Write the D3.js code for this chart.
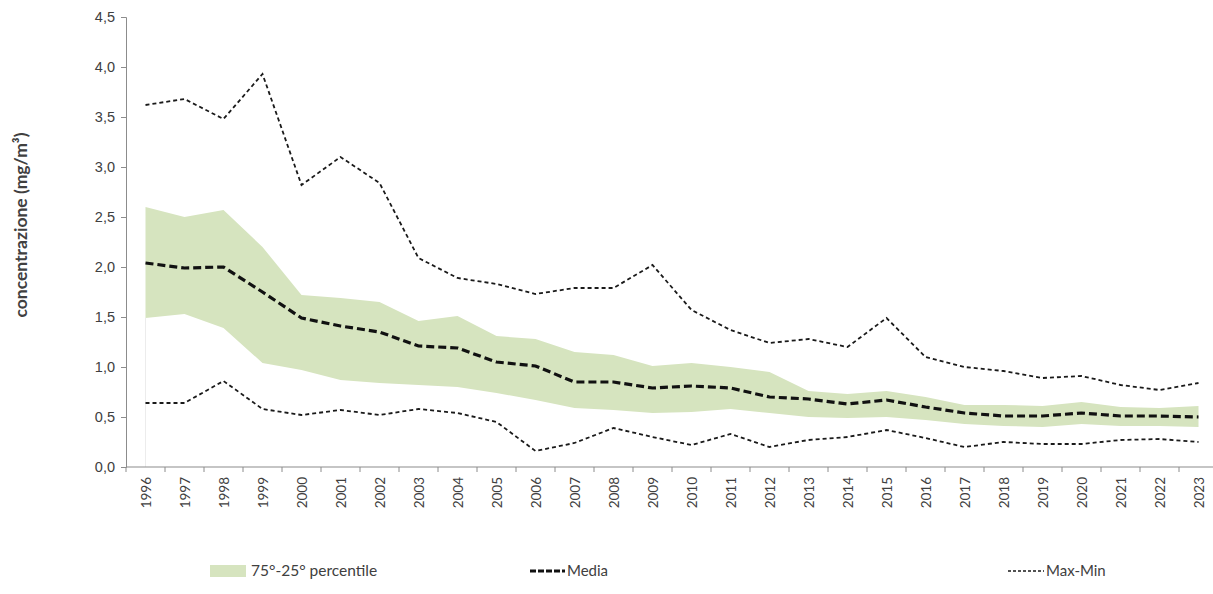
<!DOCTYPE html>
<html>
<head>
<meta charset="utf-8">
<script src="https://cdn.jsdelivr.net/npm/d3@7"></script>
<style>
  body { margin: 0; background: #fff; }
  svg { display: block; font-family: Lato, "Open Sans", sans-serif; }
</style>
</head>
<body>
<svg id="chart" width="1213" height="594"></svg>
<script>
// data
const years = ["1996","1997","1998","1999","2000","2001","2002","2003","2004","2005",
  "2006","2007","2008","2009","2010","2011","2012","2013","2014","2015",
  "2016","2017","2018","2019","2020","2021","2022","2023"];

const maxVals = [3.62, 3.68, 3.48, 3.93, 2.82, 3.10, 2.84, 2.09, 1.89, 1.83,
  1.73, 1.79, 1.79, 2.02, 1.57, 1.37, 1.24, 1.28, 1.20, 1.49,
  1.10, 1.00, 0.96, 0.89, 0.91, 0.82, 0.77, 0.84];

const p75 = [2.60, 2.50, 2.57, 2.20, 1.72, 1.69, 1.65, 1.46, 1.51, 1.31,
  1.28, 1.15, 1.12, 1.01, 1.04, 1.00, 0.95, 0.76, 0.73, 0.76,
  0.70, 0.62, 0.62, 0.61, 0.65, 0.60, 0.59, 0.61];

const media = [2.04, 1.99, 2.00, 1.75, 1.49, 1.41, 1.35, 1.21, 1.19, 1.05,
  1.01, 0.85, 0.85, 0.79, 0.81, 0.79, 0.70, 0.68, 0.63, 0.67,
  0.60, 0.54, 0.51, 0.51, 0.54, 0.51, 0.51, 0.50];

const p25 = [1.49, 1.53, 1.39, 1.04, 0.97, 0.87, 0.84, 0.82, 0.80, 0.74,
  0.67, 0.59, 0.57, 0.54, 0.55, 0.58, 0.54, 0.50, 0.49, 0.50,
  0.47, 0.43, 0.41, 0.40, 0.43, 0.41, 0.41, 0.40];

const minVals = [0.64, 0.64, 0.86, 0.58, 0.52, 0.57, 0.52, 0.58, 0.54, 0.45,
  0.16, 0.24, 0.39, 0.30, 0.22, 0.33, 0.20, 0.27, 0.30, 0.37,
  0.29, 0.20, 0.25, 0.23, 0.23, 0.27, 0.28, 0.25];

const yTicks = [0, 0.5, 1, 1.5, 2, 2.5, 3, 3.5, 4, 4.5];

const svg = d3.select("#chart");
const textColor = "#404040";
const axisColor = "#8c8c8c";

let x = d3.scaleBand()
  .domain(years)
  .range([126, 1218])
  .padding(0);

let y = d3.scaleLinear()
  .domain([0, 4.5])
  .range([467, 17]);

const cx = d => x(d) + x.bandwidth() / 2;

// percentile band
let area = d3.area()
  .x((d, i) => cx(years[i]))
  .y0((d, i) => y(p25[i]))
  .y1((d, i) => y(p75[i]));

svg.append("path")
  .datum(years)
  .attr("d", area)
  .attr("fill", "#d6e4bf");

// faint edge of the stacked area in the first year
svg.append("line")
  .attr("x1", cx(years[0])).attr("x2", cx(years[0]))
  .attr("y1", y(p25[0])).attr("y2", y(0))
  .attr("stroke", "#ececec")
  .attr("stroke-width", 1);

let line = vals => d3.line()
  .x((d, i) => cx(years[i]))
  .y(d => y(d))(vals);

// max and min
[maxVals, minVals].forEach(vals => {
  svg.append("path")
    .attr("d", line(vals))
    .attr("fill", "none")
    .attr("stroke", "#1a1a1a")
    .attr("stroke-width", 1.8)
    .attr("stroke-dasharray", "4,3");
});

// mean
svg.append("path")
  .attr("d", line(media))
  .attr("fill", "none")
  .attr("stroke", "#111")
  .attr("stroke-width", 3.2)
  .attr("stroke-dasharray", "8,4");

// y axis
let yAxis = d3.axisLeft(y)
  .tickValues(yTicks)
  .tickSize(5)
  .tickPadding(6)
  .tickFormat(d => d3.format(".1f")(d).replace(".", ","));

let yAxisGroup = svg.append("g")
  .attr("transform", "translate(126,0)")
  .call(yAxis);

yAxisGroup.select(".domain").attr("stroke", axisColor);
yAxisGroup.selectAll(".tick line").attr("stroke", axisColor);
yAxisGroup.selectAll(".tick text")
  .attr("fill", textColor)
  .style("font-size", "14.5px");

// x axis: ticks on band edges, labels in band centres
let xAxisGroup = svg.append("g")
  .attr("transform", "translate(0,467)");

xAxisGroup.append("line")
  .attr("x1", 126).attr("x2", 1218)
  .attr("stroke", axisColor)
  .attr("stroke-width", 1.2);

xAxisGroup.selectAll(".xtick")
  .data(years.concat(["end"]))
  .enter().append("line")
  .attr("class", "xtick")
  .attr("x1", d => d === "end" ? 1218 : x(d))
  .attr("x2", d => d === "end" ? 1218 : x(d))
  .attr("y1", 0).attr("y2", 5)
  .attr("stroke", axisColor);

xAxisGroup.selectAll(".xlabel")
  .data(years)
  .enter().append("text")
  .attr("class", "xlabel")
  .attr("transform", d => "translate(" + (cx(d) + 5) + ",10) rotate(-90)")
  .attr("text-anchor", "end")
  .attr("fill", textColor)
  .style("font-size", "13.5px")
  .text(d => d);

// y title
svg.append("text")
  .attr("transform", "translate(27,225) rotate(-90)")
  .attr("text-anchor", "middle")
  .attr("fill", textColor)
  .style("font-size", "17.5px")
  .style("font-weight", "bold")
  .text("concentrazione (mg/m³)");

// legend
const legY = 571;
let legend = svg.append("g");

legend.append("rect")
  .attr("x", 210).attr("y", legY - 6)
  .attr("width", 36).attr("height", 12)
  .attr("fill", "#d6e4bf");
legend.append("text")
  .attr("x", 251).attr("y", legY + 5)
  .attr("fill", textColor)
  .style("font-size", "15.5px")
  .text("75°-25° percentile");

legend.append("line")
  .attr("x1", 530).attr("x2", 565)
  .attr("y1", legY).attr("y2", legY)
  .attr("stroke", "#111")
  .attr("stroke-width", 3.2)
  .attr("stroke-dasharray", "6,2");
legend.append("text")
  .attr("x", 567).attr("y", legY + 5)
  .attr("fill", textColor)
  .style("font-size", "15px")
  .text("Media");

legend.append("line")
  .attr("x1", 1008).attr("x2", 1044)
  .attr("y1", legY).attr("y2", legY)
  .attr("stroke", "#1a1a1a")
  .attr("stroke-width", 1.6)
  .attr("stroke-dasharray", "3,2");
legend.append("text")
  .attr("x", 1046).attr("y", legY + 5)
  .attr("fill", textColor)
  .style("font-size", "15px")
  .text("Max-Min");
</script>
</body>
</html>
